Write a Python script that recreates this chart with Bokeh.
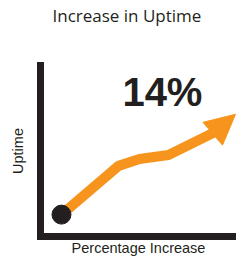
from bokeh.plotting import figure
from bokeh.models import Range1d, FixedTicker, Arrow, NormalHead, ColumnDataSource, Title
from bokeh.core.properties import value
from bokeh.embed import file_html
from bokeh.resources import INLINE

# Data (conceptual trend, arbitrary units 0-100)
trend_x = [10.7, 39.8, 50.5, 65.3, 88.8]
trend_y = [12.8, 41.3, 45.3, 47.7, 61.0]
arrow_tip_x = [99.5]
arrow_tip_y = [71.5]
headline = ["14%"]
headline_x = [62.2]
headline_y = [84.3]
chart_title = "Increase in Uptime"
x_label = "Percentage Increase"
y_label = "Uptime"

ORANGE = "#F7941D"
DARK = "#231F20"

p = figure(width=236, height=258, output_backend="svg", toolbar_location=None,
           x_range=Range1d(0, 100), y_range=Range1d(0, 100),
           min_border_left=40, min_border_right=0, min_border_top=65, min_border_bottom=21,
           title=chart_title)
p.outline_line_color = None
p.grid.visible = False
p.background_fill_color = "white"
p.border_fill_color = "white"

p.title.text_font = "Open Sans"
p.title.text_font_size = "17px"
p.title.text_font_style = "normal"
p.title.text_color = DARK
p.title.align = "left"
p.title.offset = 12
p.title.standoff = 0

# blank spacer between the frame and the title
p.add_layout(Title(text=" ", text_font_size="1px", standoff=36), "above")

for ax in (p.xaxis[0], p.yaxis[0]):
    ax.ticker = FixedTicker(ticks=[])
    ax.axis_line_color = DARK
    ax.axis_line_width = 7
    ax.axis_line_cap = "square"
    ax.major_tick_line_color = None
    ax.minor_tick_line_color = None
    ax.axis_label_text_font = "Liberation Sans"
    ax.axis_label_text_font_size = "14.5px"
    ax.axis_label_text_font_style = "normal"
    ax.axis_label_text_color = DARK

p.xaxis.axis_label = x_label
p.yaxis.axis_label = y_label
p.xaxis.axis_label_standoff = 3
p.yaxis.axis_label_standoff = 15

p.line(trend_x, trend_y, line_color=ORANGE, line_width=10, line_join="round")
p.add_layout(Arrow(end=NormalHead(size=30, fill_color=ORANGE, line_color=ORANGE, line_width=1),
                   x_start=trend_x[-1], y_start=trend_y[-1],
                   x_end=arrow_tip_x[0], y_end=arrow_tip_y[0],
                   line_color=ORANGE, line_width=0, line_alpha=0))
p.scatter(trend_x[:1], trend_y[:1], size=19, color=DARK)

src = ColumnDataSource(dict(x=headline_x, y=headline_y, t=headline))
p.text("x", "y", text="t", source=src, text_font=value("Liberation Sans"),
       text_font_style="bold", text_font_size="40px", text_align="center",
       text_baseline="alphabetic", text_color=DARK)

open("out.html", "w").write(file_html(p, INLINE))
